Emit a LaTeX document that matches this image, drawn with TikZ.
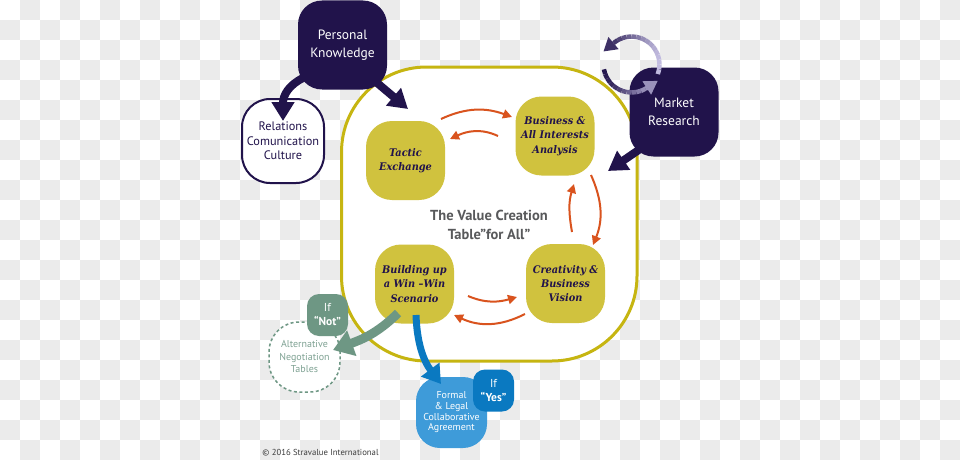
\documentclass[tikz,border=0pt]{standalone}
\usepackage{fontspec}
\usetikzlibrary{arrows.meta,calc}
\newfontfamily\dinf{PT Sans}
\newfontfamily\serf[FakeStretch=0.93]{DejaVu Serif}
\definecolor{navy}{HTML}{21134B}
\definecolor{lav}{HTML}{C2BCE0}
\definecolor{olivefill}{HTML}{D0C23E}
\definecolor{tborder}{HTML}{C6B511}
\definecolor{orng}{HTML}{D9531E}
\definecolor{sage}{HTML}{6E9784}
\definecolor{sagetext}{HTML}{7FA293}
\definecolor{bluedark}{HTML}{0A79C1}
\definecolor{bluelight}{HTML}{3E9BD9}
\definecolor{titlegray}{HTML}{58595B}
\definecolor{chk}{HTML}{EBEBEB}
\definecolor{cgray}{HTML}{3C3C3C}
\begin{document}
\begin{tikzpicture}[x=1pt,y=1pt,
  every node/.style={inner sep=0pt,outer sep=0pt,align=center},
  navybox/.style={fill=navy,rounded corners=24pt,minimum width=89pt,minimum height=89pt,text=white,font=\dinf\fontsize{13.5}{18.5}\selectfont},
  relbox/.style={draw=navy,line width=2pt,fill=white,rounded corners=28pt,minimum width=82pt,minimum height=84pt,text=navy,font=\dinf\fontsize{12.3}{14.5}\selectfont},
  olivebox/.style={fill=olivefill,rounded corners=26pt,minimum width=79pt,minimum height=79pt,text=navy,font=\serf\bfseries\itshape\fontsize{10.5}{14.2}\selectfont},
  tablebox/.style={draw=tborder,line width=3pt,fill=white,rounded corners=85pt,minimum width=295.5pt,minimum height=294pt},
  titletext/.style={text=titlegray,font=\dinf\bfseries\fontsize{14.5}{18.5}\selectfont},
  altbox/.style={draw=sage,line width=1.5pt,dash pattern=on 3pt off 2.5pt,fill=white,rounded corners=30pt,minimum width=71pt,minimum height=70pt,text=sagetext,font=\dinf\fontsize{10}{12.5}\selectfont},
  ifbox/.style={rounded corners=12pt,minimum width=41pt,minimum height=42pt,text=white,font=\dinf\fontsize{11.5}{14}\selectfont},
  formalbox/.style={fill=bluelight,rounded corners=24pt,minimum width=71pt,minimum height=71pt,text=white,font=\dinf\fontsize{10}{10.7}\selectfont},
  copytext/.style={text=cgray,font=\dinf\fontsize{8.7}{10}\selectfont},
  navyarrow/.style={draw=navy,line width=8pt,-{Triangle[length=19pt,width=22pt]}},
  sagearrow/.style={draw=sage,line width=9pt,-{Triangle[length=20pt,width=26pt]}},
  bluearrow/.style={draw=bluedark,line width=7pt,-{Triangle[length=18pt,width=22pt]}},
  oarrow/.style={draw=orng,line width=2pt,-{Triangle[length=9pt,width=9pt]}},
  ringseg/.style={line width=4.5pt}
]
\useasboundingbox (0,0) rectangle (960,-460);
\fill[white] (0,0) rectangle (960,-460);
\foreach \j in {0,...,22}
  \foreach \k in {0,...,23}
    \fill[chk] ({20*(2*\k+1-mod(\j,2))},{-20*\j}) rectangle ++(20,-20);

% main table
\node[tablebox] (table) at (489.25,-214) {};
\node[titletext] (title) at (489,-225) {The Value Creation\\Table”for All”};

% outer boxes
\node[navybox] (pk) at (342.5,-45) {Personal\\Knowledge};
\node[relbox] (rel) at (283,-141) {Relations\\Comunication\\Culture};
\node[navybox] (mr) at (674,-112) {Market\\Research};

% olive boxes
\node[olivebox] (tac) at (405.5,-160.5) {Tactic\\Exchange};
\node[olivebox] (bus) at (555,-136) {Business \&\\All Interests\\Analysis};
\node[olivebox] (win) at (414.5,-284) {Building up\\a Win –Win\\Scenario};
\node[olivebox] (cre) at (565.5,-283.5) {Creativity \&\\Business\\Vision};

% outcome boxes
\node[altbox] (alt) at (304.5,-357) {Alternative\\Negotiation\\Tables};
\node[ifbox,fill=sage] (ifn) at (327.5,-315) {If\\\textbf{“Not”}};
\node[formalbox] (formal) at (451.5,-412.5) {Formal\\\& Legal\\Collaborative\\Agreement};
\node[ifbox,fill=bluedark] (ify) at (493.5,-390.5) {If\\\textbf{“Yes”}};

\node[copytext] (cpy) at (320.5,-453) {© 2016 Stravalue International};

% navy arrows
\draw[navyarrow] ($(pk.center)+(-39.5,-33)$) .. controls ($(pk.center)+(-53.5,-40)$) and ($(rel.north)+(0,4)$) .. ($(rel.north)+(0,-22)$);
\draw[navyarrow] ($(pk.center)+(33.5,-37)$) -- ($(table.north west)+(66.5,-42)$);
\draw[navyarrow] ($(mr.center)+(-31,-35)$) -- ($(table.north east)+(-29,-104)$);

% ring arrows near Market Research
\coordinate (ringc) at ($(mr.north west)+(2,3)$);
\foreach \a in {-20,-10,...,120} {
  \pgfmathtruncatemacro\p{50-50*cos(\a+5)}
  \draw[ringseg,color=navy!\p!lav] ($(ringc)+(\a:28)$) arc[start angle=\a,end angle=\a+10,radius=28];
}
\pgfmathtruncatemacro\p{50-50*cos(130)}
\fill[color=navy!\p!lav] ($(ringc)+(130:36)$) -- ($(ringc)+(130:28)+(220:13)$) -- ($(ringc)+(130:20)$) -- cycle;
\foreach \a in {190,200,...,290} {
  \pgfmathtruncatemacro\p{50-50*cos(\a+5)}
  \draw[ringseg,color=navy!\p!lav] ($(ringc)+(\a:28)$) arc[start angle=\a,end angle=\a+10,radius=28];
}
\pgfmathtruncatemacro\p{50-50*cos(300)}
\draw[ringseg,color=navy!\p!lav] ($(ringc)+(300:28)$) arc[start angle=300,end angle=304,radius=28];
\fill[color=navy!\p!lav] ($(ringc)+(303:36)$) -- ($(ringc)+(303:28)+(33:13)$) -- ($(ringc)+(303:20)$) -- cycle;

% orange cycle arrows
\draw[oarrow] ($(tac.center)+(35.5,41.5)$) to[out=25,in=160] ($(bus.center)+(-43,19)$);
\draw[oarrow] ($(bus.center)+(-57,0)$) to[out=155,in=25] ($(tac.center)+(44.5,21.5)$);
\draw[oarrow] ($(bus.center)+(36,-39)$) to[out=-66,in=68] ($(cre.center)+(27.5,38.5)$);
\draw[oarrow] ($(cre.center)+(6.5,51.5)$) to[out=100,in=-107] ($(bus.center)+(19,-48)$);
\draw[oarrow] ($(win.center)+(53.5,-12)$) to[out=-23,in=-164] ($(cre.center)+(-48.5,-13.5)$);
\draw[oarrow] ($(cre.center)+(-40.5,-30.5)$) to[out=207,in=-25] ($(win.center)+(39.5,-31)$);

% outcome arrows
\draw[sagearrow] ($(win.center)+(-16.5,-29)$) to[out=225,in=20] ($(alt.center)+(28.5,7)$);
\draw[bluearrow] ($(win.center)+(1.5,-31)$) to[out=-88,in=127] ($(formal.center)+(-10.5,28.5)$);
\end{tikzpicture}
\end{document}
